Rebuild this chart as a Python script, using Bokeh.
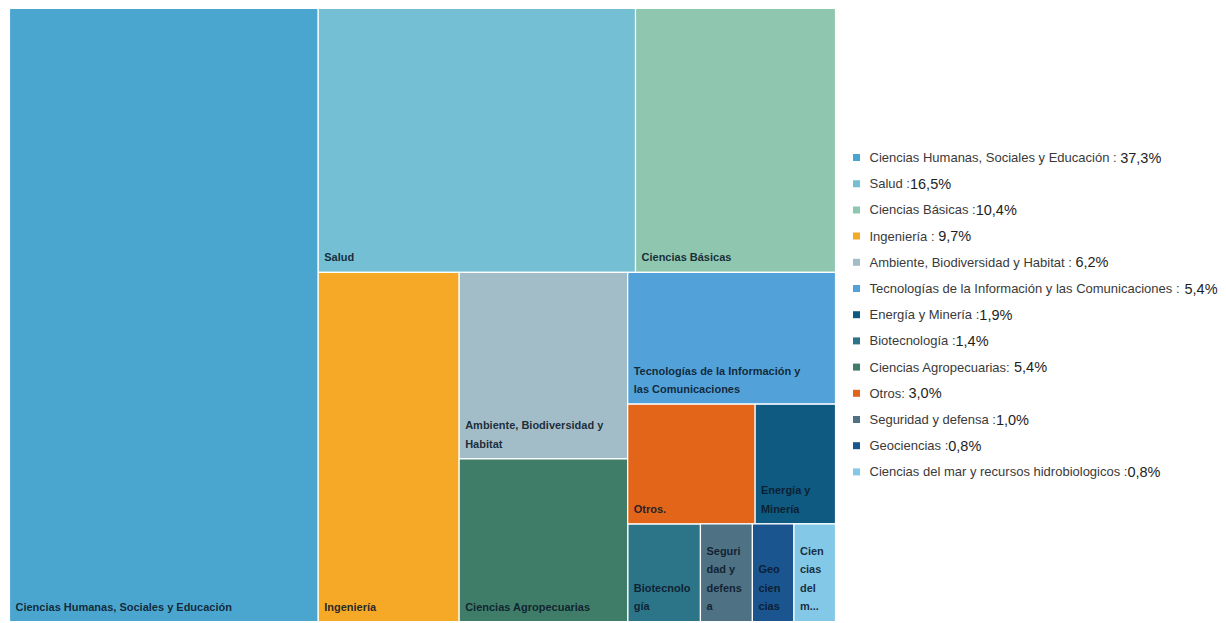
from bokeh.plotting import figure
from bokeh.models import Range1d, ColumnDataSource
from bokeh.core.properties import value
from bokeh.embed import file_html
from bokeh.resources import INLINE

# ---------------- data ----------------
categories = [
    "Ciencias Humanas, Sociales y Educación",
    "Salud",
    "Ciencias Básicas",
    "Ingeniería",
    "Ambiente, Biodiversidad y Habitat",
    "Tecnologías de la Información y las Comunicaciones",
    "Energía y Minería",
    "Biotecnología",
    "Ciencias Agropecuarias",
    "Otros",
    "Seguridad y defensa",
    "Geociencias",
    "Ciencias del mar y recursos hidrobiologicos",
]
values = [37.3, 16.5, 10.4, 9.7, 6.2, 5.4, 1.9, 1.4, 5.4, 3.0, 1.0, 0.8, 0.8]
legend_seps = [" : ", " :", " :", " : ", " : ", " : ", " :", " :", ": ", ": ", " :", " :", " :"]
cell_labels = [
    "Ciencias Humanas, Sociales y Educación",
    "Salud",
    "Ciencias Básicas",
    "Ingeniería",
    "Ambiente, Biodiversidad y\nHabitat",
    "Tecnologías de la Información y\nlas Comunicaciones",
    "Energía y\nMinería",
    "Biotecnolo\ngía",
    "Ciencias Agropecuarias",
    "Otros.",
    "Seguri\ndad y\ndefens\na",
    "Geo\ncien\ncias",
    "Cien\ncias\ndel\nm...",
]
colors = [
    "#4BA6CF", "#74BFD3", "#8FC6B0", "#F5A926", "#A3BDC8", "#52A2D9", "#0F5A80",
    "#2C7488", "#3F7D68", "#E2651A", "#4E7184", "#1A558F", "#84C8E8",
]

# treemap nesting (h = split left-to-right, v = split top-to-bottom)
tree = ("h", [0, ("v", [("h", [1, 2]),
                        ("h", [3, ("v", [4, 8]),
                               ("v", [5, ("h", [9, 6]), ("h", [7, 10, 11, 12])])])])])


def total(node):
    if isinstance(node, int):
        return values[node]
    return sum(total(c) for c in node[1])


rects = {}


def layout(node, x0, y0, x1, y1):
    if isinstance(node, int):
        rects[node] = (x0, y0, x1, y1)
        return
    d, kids = node
    s = total(node)
    pos = x0 if d == "h" else y0
    for k in kids:
        frac = total(k) / s
        if d == "h":
            step = (x1 - x0) * frac
            layout(k, pos, y0, pos + step, y1)
        else:
            step = (y1 - y0) * frac
            layout(k, x0, pos, x1, pos + step)
        pos += step


W, H = 1226, 623
TX0, TX1, TY0, TY1 = 9, 835, 8, 621
layout(tree, TX0, TY0, TX1, TY1)

n = len(categories)
src = ColumnDataSource(dict(
    left=[rects[i][0] for i in range(n)],
    right=[rects[i][2] for i in range(n)],
    top=[rects[i][1] for i in range(n)],
    bottom=[rects[i][3] for i in range(n)],
    color=colors,
    lx=[rects[i][0] + 6 for i in range(n)],
    ly=[rects[i][3] - 9 for i in range(n)],
    label=cell_labels,
))

p = figure(width=W, height=H, output_backend="svg", toolbar_location=None,
           x_range=Range1d(0, W), y_range=Range1d(H, 0), min_border=0)
p.axis.visible = False
p.xgrid.visible = False
p.ygrid.visible = False
p.outline_line_color = None
p.background_fill_color = "white"
p.border_fill_color = "white"

p.quad(left="left", right="right", top="top", bottom="bottom", source=src,
       fill_color="color", line_color="white", line_width=1.2)

p.text(x="lx", y="ly", text="label", source=src,
       text_font=value("Liberation Sans"), text_font_style="bold",
       text_font_size="11px", text_color="#0b1828", text_alpha=0.9,
       text_baseline="bottom", text_align="left", text_line_height=1.55)

# ---- legend (Arial / Liberation Sans advance widths, per 1000 em) ----
AW = {" ": 278, ",": 278, ".": 278, ":": 278, "%": 889,
      "a": 556, "b": 556, "c": 500, "d": 556, "e": 556, "f": 278, "g": 556, "h": 556,
      "i": 222, "j": 222, "k": 500, "l": 222, "m": 833, "n": 556, "o": 556, "p": 556,
      "q": 556, "r": 333, "s": 500, "t": 278, "u": 556, "v": 500, "w": 722, "x": 500,
      "y": 500, "z": 500, "á": 556, "é": 556, "í": 278, "ó": 556,
      "A": 667, "B": 667, "C": 722, "D": 722, "E": 667, "G": 778, "H": 722, "I": 278,
      "M": 833, "O": 778, "S": 667, "T": 611}


def twidth(s, fs):
    return sum(AW.get(ch, 556) for ch in s) / 1000.0 * fs


NAME_FS, PCT_FS = 13.0, 14.5
LX, LY0, LDY = 856, 157, 26.2
leg_y = [LY0 + i * LDY for i in range(n)]
name_txt = [categories[i] + legend_seps[i] for i in range(n)]
pct_txt = [f"{values[i]:.1f}".replace(".", ",") + "%" for i in range(n)]
tx = LX + 13
lsrc = ColumnDataSource(dict(
    x=[LX] * n, tx=[tx] * n, y=leg_y, color=colors, t=name_txt,
    px=[tx + twidth(s, NAME_FS) for s in name_txt], pt=pct_txt,
))
p.scatter(x="x", y="y", source=lsrc, marker="square", size=7, fill_color="color",
          line_color=None)
p.text(x="tx", y="y", text="t", source=lsrc, text_font=value("Liberation Sans"),
       text_font_size=f"{NAME_FS}px", text_color="#3a3a3a", text_baseline="middle",
       text_align="left")
p.text(x="px", y="y", text="pt", source=lsrc, text_font=value("Liberation Sans"),
       text_font_size=f"{PCT_FS}px", text_color="#1e1e1e", text_baseline="middle",
       text_align="left")

open("out.html", "w").write(file_html(p, INLINE))
